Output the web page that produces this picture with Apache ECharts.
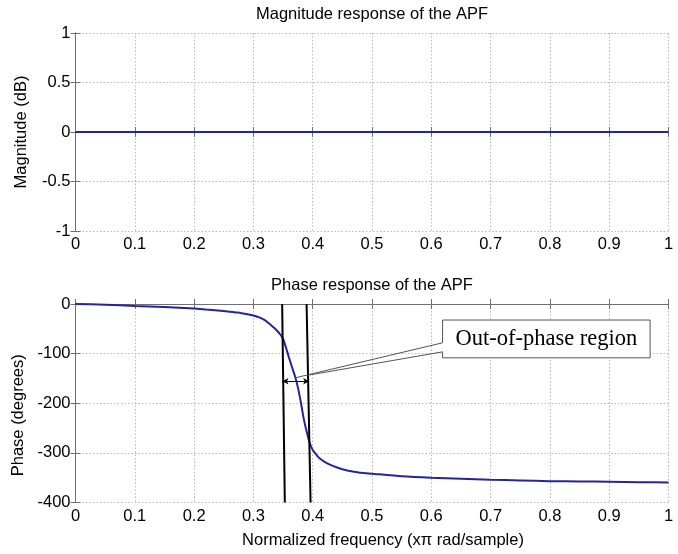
<!DOCTYPE html>
<html>
<head>
<meta charset="utf-8">
<script src="https://cdn.jsdelivr.net/npm/echarts@6/dist/echarts.min.js"></script>
<style>html,body{margin:0;padding:0;background:#fff}#c{width:678px;height:554px}</style>
</head>
<body>
<div id="c"></div>
<script>
// ---- data ----
const magFreq = [0, 1];
const magValues = [0, 0];
const freq = [0,0.05,0.1,0.15,0.2,0.22,0.24,0.26,0.27,0.28,0.29,0.3,0.31,0.32,0.325,0.33,0.335,0.34,0.345,0.35,0.355,0.36,0.365,0.37,0.375,0.38,0.385,0.39,0.395,0.4,0.405,0.41,0.415,0.42,0.43,0.44,0.45,0.46,0.47,0.48,0.5,0.55,0.6,0.65,0.7,0.75,0.8,0.85,0.9,0.95,1.0];
const phase = [0,-1.5,-4,-6,-9,-11,-13,-15.5,-17,-18.5,-20.5,-23,-27,-33,-38,-43,-48,-54,-61,-70,-88,-108,-127,-145,-168,-198,-232,-258,-280,-294,-302,-309,-314,-318,-324,-329,-333,-336,-338,-340,-342,-347,-350,-352,-354,-355.5,-357,-357.5,-358,-359,-359.5];
const xTicks = [0,0.1,0.2,0.3,0.4,0.5,0.6,0.7,0.8,0.9,1];
const magTicks = [-1,-0.5,0,0.5,1];
const phaseTicks = [-400,-300,-200,-100,0];
// annotation (data space)
const boundaries = [[[0.3485,0],[0.353,-400]],[[0.3897,0],[0.3964,-400]]];
const arrowSpan = [[0.349,-155.6],[0.394,-155.6]];
const calloutBox = [0.619,-32.3,0.969,-108.5];   // x0,yTop,x1,yBottom
const calloutBases = [-78.2,-96.4];
const calloutTips = [[0.370,-148.9],[0.3926,-143.4]];
const calloutText = 'Out-of-phase region';

const FONT = 'Liberation Sans, Arial, Helvetica, sans-serif';
const FS = 16.5;
const frameColor = '#707070';
const gridColor = '#b8b8b8';
const lineColor = '#24249c';

function fmt(v){ return String(+(+v).toFixed(2)); }

function xAx(gridIndex, pos, withLabel, name){
  return {
    type:'value', gridIndex, position:pos, min:0, max:1, interval:0.1,
    axisLine:{show:true, lineStyle:{color:frameColor, width:1}},
    axisTick:{show:true, inside:true, length:5, lineStyle:{color:frameColor}},
    axisLabel:{show:withLabel, color:'#000', fontFamily:FONT, fontSize:FS, margin:5, formatter:fmt, hideOverlap:false, showMinLabel:true, showMaxLabel:true},
    splitLine:{show:withLabel, lineStyle:{color:gridColor, type:[1.5,2], width:1}},
    name: name || '', nameLocation:'middle', nameGap:29,
    nameTextStyle:{color:'#000', fontFamily:FONT, fontSize:FS, padding:[0,0,0,22]}
  };
}
function yAx(gridIndex, pos, withLabel, min, max, interval, name, pad){
  return {
    type:'value', gridIndex, position:pos, min, max, interval,
    axisLine:{show:true, lineStyle:{color:frameColor, width:1}},
    axisTick:{show:true, inside:true, length:5, lineStyle:{color:frameColor}},
    axisLabel:{show:withLabel, color:'#000', fontFamily:FONT, fontSize:FS, margin:5, formatter:fmt, showMinLabel:true, showMaxLabel:true},
    splitLine:{show:withLabel, lineStyle:{color:gridColor, type:[1.5,2], width:1}},
    name: name || '', nameLocation:'middle', nameGap:46, nameRotate:90,
    nameTextStyle:{color:'#000', fontFamily:FONT, fontSize:FS, padding:pad||0}
  };
}

const chart = echarts.init(document.getElementById('c'), null, {renderer:'canvas'});
const option = {
  backgroundColor:'#fff',
  animation:false,
  title:[
    {text:'Magnitude response of the APF', left:372, top:6, textAlign:'center', padding:0,
     textStyle:{fontFamily:FONT, fontSize:FS, fontWeight:'normal', color:'#000'}},
    {text:'Phase response of the APF', left:372, top:277, textAlign:'center', padding:0,
     textStyle:{fontFamily:FONT, fontSize:FS, fontWeight:'normal', color:'#000'}}
  ],
  grid:[
    {left:75.5, width:593, top:33, height:198, containLabel:false},
    {left:75.5, width:593, top:304, height:198.5, containLabel:false}
  ],
  xAxis:[
    xAx(0,'bottom',true),
    xAx(0,'top',false),
    xAx(1,'bottom',true,'Normalized frequency (x\u03c0 rad/sample)'),
    xAx(1,'top',false)
  ],
  yAxis:[
    yAx(0,'left',true,magTicks[0],magTicks[magTicks.length-1],0.5,'Magnitude (dB)'),
    yAx(0,'right',false,magTicks[0],magTicks[magTicks.length-1],0.5),
    yAx(1,'left',true,phaseTicks[0],phaseTicks[phaseTicks.length-1],100,'Phase (degrees)',[0,24,0,0]),
    yAx(1,'right',false,phaseTicks[0],phaseTicks[phaseTicks.length-1],100)
  ],
  series:[
    {type:'line', xAxisIndex:0, yAxisIndex:0, data:magFreq.map((f,i)=>[f,magValues[i]]),
     showSymbol:false, lineStyle:{color:lineColor, width:2}, silent:true},
    {type:'line', xAxisIndex:2, yAxisIndex:2, data:freq.map((f,i)=>[f,phase[i]]),
     showSymbol:false, smooth:0.2, lineStyle:{color:lineColor, width:2}, silent:true,
     markLine:{
       silent:true, animation:false, label:{show:false},
       data:[
         [{coord:boundaries[0][0], symbol:'none'},{coord:boundaries[0][1], symbol:'none', lineStyle:{color:'#000', width:2, type:'solid'}}],
         [{coord:boundaries[1][0], symbol:'none'},{coord:boundaries[1][1], symbol:'none', lineStyle:{color:'#000', width:2, type:'solid'}}],
         [{coord:arrowSpan[0], symbol:'arrow', symbolSize:[5,6]},{coord:arrowSpan[1], symbol:'arrow', symbolSize:[5,6], lineStyle:{color:'#000', width:1, type:'solid'}}]
       ],
       lineStyle:{color:'#000', width:2, type:'solid'}
     }},
    {type:'custom', xAxisIndex:2, yAxisIndex:2, data:[[0]], silent:true, clip:false, z:10,
     renderItem:function(params, api){
       const [x0,yT,x1,yB] = calloutBox;
       const tl = api.coord([x0,yT]), tr = api.coord([x1,yT]), br = api.coord([x1,yB]), bl = api.coord([x0,yB]);
       const b1 = api.coord([x0,calloutBases[0]]), b2 = api.coord([x0,calloutBases[1]]);
       const t1 = api.coord(calloutTips[0]), t2 = api.coord(calloutTips[1]);
       const stroke = {stroke:'#555', lineWidth:1, fill:null};
       return {type:'group', children:[
         {type:'polygon', shape:{points:[tl,tr,br,bl,b2,b1]}, style:{fill:'#fff', stroke:null}},
         {type:'polyline', shape:{points:[b1,tl,tr,br,bl,b2]}, style:stroke},
         {type:'line', shape:{x1:b1[0],y1:b1[1],x2:t1[0],y2:t1[1]}, style:stroke},
         {type:'line', shape:{x1:b2[0],y1:b2[1],x2:t2[0],y2:t2[1]}, style:stroke},
         {type:'text', x:(tl[0]+tr[0])/2, y:(tl[1]+bl[1])/2,
          style:{text:calloutText, fill:'#000', font:'22.5px "Liberation Serif", "Times New Roman", serif', align:'center', verticalAlign:'middle'}}
       ]};
     }}
  ]
};
chart.setOption(option);
</script>
</body>
</html>
